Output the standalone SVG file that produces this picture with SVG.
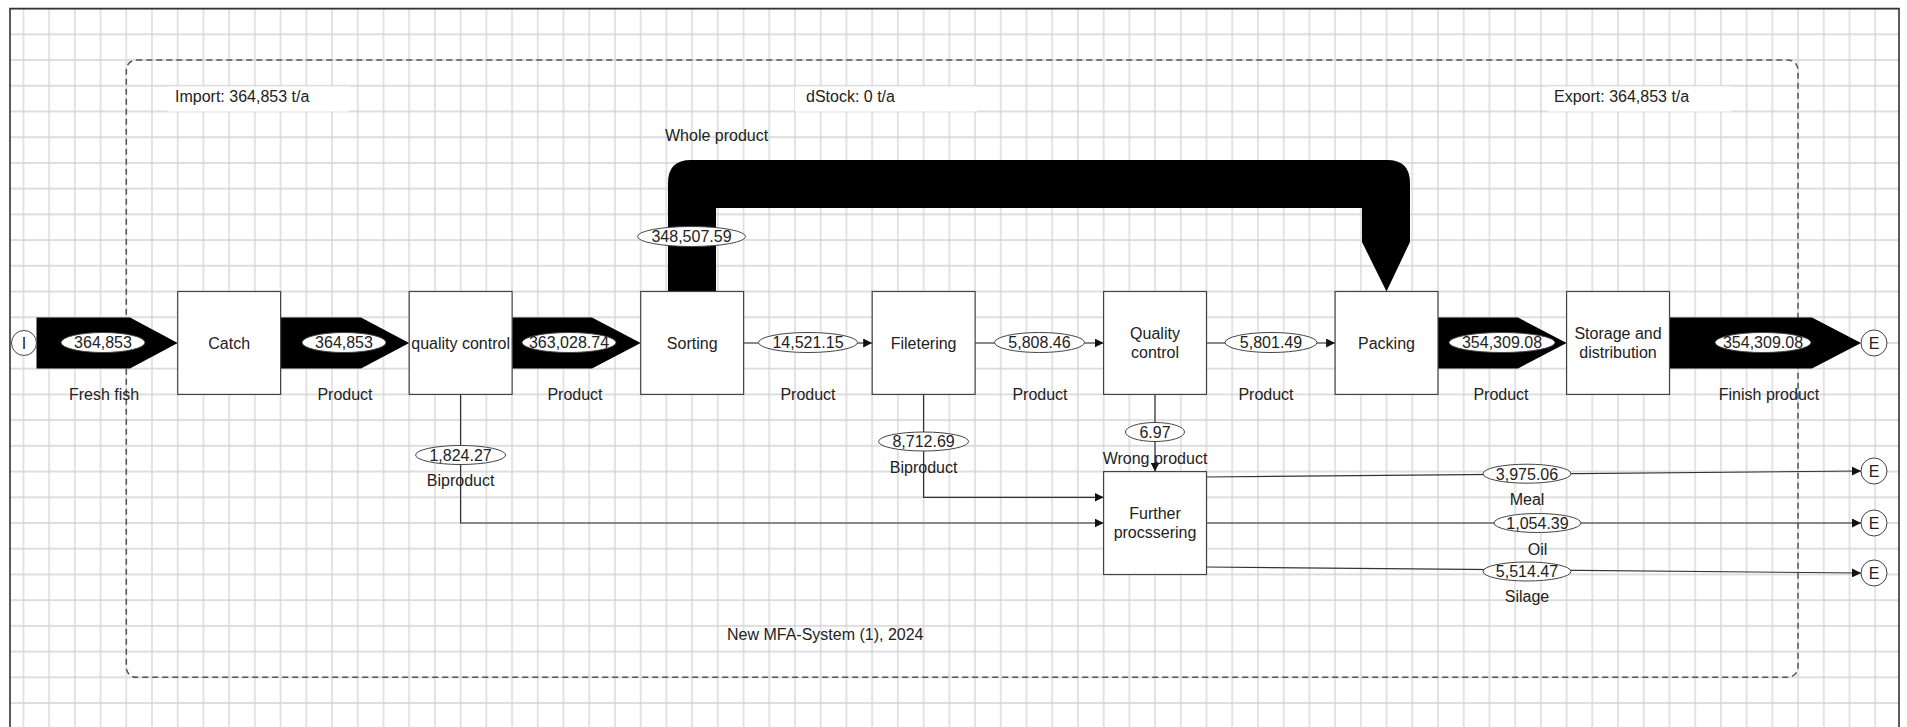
<svg xmlns="http://www.w3.org/2000/svg" width="1907" height="727" viewBox="0 0 1907 727">
<style>
text{font-family:"Liberation Sans",Arial,sans-serif;font-size:16px;fill:#222}
.c{text-anchor:middle}
.box{fill:#fff;stroke:#444;stroke-width:1.2}
.lbl{fill:#fff;stroke:#444;stroke-width:1}
.flow{fill:#000}
.thin{fill:none;stroke:#333;stroke-width:1.2}
.pt{fill:#fff;stroke:#444;stroke-width:1}
</style>
<defs>
<pattern id="grid" x="10.54" y="-4.26" width="25.72" height="25.72" patternUnits="userSpaceOnUse"><path d="M0 12.86H25.72M12.86 0V25.72" stroke="#d4d4d4" stroke-width="1.3" fill="none"/></pattern>
<marker id="ah" viewBox="0 0 10 10" refX="10" refY="5" markerWidth="9" markerHeight="9" markerUnits="userSpaceOnUse" orient="auto"><path d="M0,0 L10,5 L0,10 z" fill="#111"/></marker>
</defs>
<rect x="0" y="0" width="1907" height="727" fill="#fff"/>
<rect x="10" y="8.6" width="1889" height="720" fill="url(#grid)"/>
<path d="M10 727V8.6H1899V727" fill="none" stroke="#333" stroke-width="1.6"/>
<g id="system">
<rect x="126.3" y="60" width="1671.7" height="617.3" rx="10" fill="none" stroke="#555" stroke-width="1.5" stroke-dasharray="6,4"/>
<rect x="168" y="86.5" width="181" height="25" fill="#fff"/>
<rect x="795" y="86.5" width="182" height="25" fill="#fff"/>
<rect x="1548" y="86.5" width="183" height="25" fill="#fff"/>
<text x="175" y="102">Import: 364,853 t/a</text>
<text x="806" y="102">dStock: 0 t/a</text>
<text x="1554" y="102">Export: 364,853 t/a</text>
<text x="727" y="640">New MFA-System (1), 2024</text>
</g>
<g id="connectors">
<g id="f-fresh"><polygon class="flow" points="36.5,317.5 130,317.5 177.7,343 130,368.5 36.5,368.5"/><ellipse class="lbl" cx="103" cy="342.5" rx="42" ry="10"/><text class="c" x="103" y="348.3">364,853</text><text class="c" x="104" y="400">Fresh fish</text></g>
<g id="f-p1"><polygon class="flow" points="280.6,317.5 361,317.5 409.2,343 361,368.5 280.6,368.5"/><ellipse class="lbl" cx="344" cy="342.5" rx="42" ry="10"/><text class="c" x="344" y="348.3">364,853</text><text class="c" x="345" y="400">Product</text></g>
<g id="f-p2"><polygon class="flow" points="512.1,317.5 592,317.5 640.7,343 592,368.5 512.1,368.5"/><ellipse class="lbl" cx="569" cy="342.5" rx="47" ry="10"/><text class="c" x="569" y="348.3">363,028.74</text><text class="c" x="575" y="400">Product</text></g>
<g id="f-whole"><path class="flow" d="M668 291.5V183Q668 160 691 160H1387Q1410 160 1410 183V242L1386.5 291.5L1362 242V208H716V291.5Z"/><ellipse class="lbl" cx="691.5" cy="236.5" rx="54" ry="10"/><text class="c" x="691.5" y="242.3">348,507.59</text><text x="665" y="141">Whole product</text></g>
<g id="f-p3"><line class="thin" x1="743.6" y1="343" x2="872.2" y2="343" marker-end="url(#ah)"/><ellipse class="lbl" cx="808" cy="342.5" rx="49.5" ry="10"/><text class="c" x="808" y="348.3">14,521.15</text><text class="c" x="808" y="400">Product</text></g>
<g id="f-p4"><line class="thin" x1="975" y1="343" x2="1103.6" y2="343" marker-end="url(#ah)"/><ellipse class="lbl" cx="1039.5" cy="342.5" rx="45" ry="10"/><text class="c" x="1039.5" y="348.3">5,808.46</text><text class="c" x="1040" y="400">Product</text></g>
<g id="f-p5"><line class="thin" x1="1206.5" y1="343" x2="1335.1" y2="343" marker-end="url(#ah)"/><ellipse class="lbl" cx="1271" cy="342.5" rx="46" ry="10"/><text class="c" x="1271" y="348.3">5,801.49</text><text class="c" x="1266" y="400">Product</text></g>
<g id="f-p6"><polygon class="flow" points="1438,317.5 1518,317.5 1566.6,343 1518,368.5 1438,368.5"/><ellipse class="lbl" cx="1502" cy="342.5" rx="53" ry="10"/><text class="c" x="1502" y="348.3">354,309.08</text><text class="c" x="1501" y="400">Product</text></g>
<g id="f-finish"><polygon class="flow" points="1669.5,317.5 1812,317.5 1861,343 1812,368.5 1669.5,368.5"/><ellipse class="lbl" cx="1763" cy="342.5" rx="48" ry="10"/><text class="c" x="1763" y="348.3">354,309.08</text><text class="c" x="1769" y="400">Finish product</text></g>
<g id="f-bi1"><path class="thin" d="M460.6 394.4V523H1103.6" marker-end="url(#ah)"/><ellipse class="lbl" cx="460.6" cy="455" rx="45" ry="9.5"/><text class="c" x="460.6" y="460.8">1,824.27</text><text class="c" x="460.6" y="486">Biproduct</text></g>
<g id="f-bi2"><path class="thin" d="M923.6 394.4V497.3H1103.6" marker-end="url(#ah)"/><ellipse class="lbl" cx="923.6" cy="441.5" rx="45" ry="9.5"/><text class="c" x="923.6" y="447.3">8,712.69</text><text class="c" x="923.6" y="473">Biproduct</text></g>
<g id="f-wrong"><line class="thin" x1="1155" y1="394.4" x2="1155" y2="471.6" marker-end="url(#ah)"/><ellipse class="lbl" cx="1155" cy="432" rx="29.5" ry="9.5"/><text class="c" x="1155" y="437.8">6.97</text><text class="c" x="1155" y="464">Wrong product</text></g>
<g id="f-meal"><line class="thin" x1="1206.5" y1="477" x2="1861" y2="471" marker-end="url(#ah)"/><ellipse class="lbl" cx="1527" cy="473.7" rx="44" ry="9.5"/><text class="c" x="1527" y="479.5">3,975.06</text><text class="c" x="1527" y="505">Meal</text></g>
<g id="f-oil"><line class="thin" x1="1206.5" y1="523" x2="1861" y2="523" marker-end="url(#ah)"/><ellipse class="lbl" cx="1537.5" cy="523" rx="43.5" ry="9.5"/><text class="c" x="1537.5" y="528.8">1,054.39</text><text class="c" x="1537.5" y="555">Oil</text></g>
<g id="f-silage"><line class="thin" x1="1206.5" y1="567" x2="1861" y2="573" marker-end="url(#ah)"/><ellipse class="lbl" cx="1527" cy="571.5" rx="44" ry="9.5"/><text class="c" x="1527" y="577.3">5,514.47</text><text class="c" x="1527" y="602">Silage</text></g>
</g>
<g id="n-import"><circle class="pt" cx="24" cy="343" r="12.5"/><text class="c" x="24" y="348.8">I</text></g>
<g id="n-catch"><rect class="box" x="177.7" y="291.5" width="102.9" height="102.9"/><text class="c" x="229.2" y="348.8">Catch</text></g>
<g id="n-qc1"><rect class="box" x="409.2" y="291.5" width="102.9" height="102.9"/><text class="c" x="460.6" y="348.8">quality control</text></g>
<g id="n-sorting"><rect class="box" x="640.7" y="291.5" width="102.9" height="102.9"/><text class="c" x="692.2" y="348.8">Sorting</text></g>
<g id="n-filetering"><rect class="box" x="872.2" y="291.5" width="102.9" height="102.9"/><text class="c" x="923.6" y="348.8">Filetering</text></g>
<g id="n-qc2"><rect class="box" x="1103.6" y="291.5" width="102.9" height="102.9"/><text class="c" x="1155" y="339">Quality</text><text class="c" x="1155" y="358">control</text></g>
<g id="n-packing"><rect class="box" x="1335.1" y="291.5" width="102.9" height="102.9"/><text class="c" x="1386.5" y="348.8">Packing</text></g>
<g id="n-storage"><rect class="box" x="1566.6" y="291.5" width="102.9" height="102.9"/><text class="c" x="1618" y="339">Storage and</text><text class="c" x="1618" y="358">distribution</text></g>
<g id="n-further"><rect class="box" x="1103.6" y="471.6" width="102.9" height="102.9"/><text class="c" x="1155" y="519">Further</text><text class="c" x="1155" y="538">procssering</text></g>
<g id="n-e1"><circle class="pt" cx="1874" cy="343" r="13"/><text class="c" x="1874" y="348.8">E</text></g>
<g id="n-e2"><circle class="pt" cx="1874" cy="471" r="13"/><text class="c" x="1874" y="476.8">E</text></g>
<g id="n-e3"><circle class="pt" cx="1874" cy="523" r="13"/><text class="c" x="1874" y="528.8">E</text></g>
<g id="n-e4"><circle class="pt" cx="1874" cy="573" r="13"/><text class="c" x="1874" y="578.8">E</text></g>
</svg>
